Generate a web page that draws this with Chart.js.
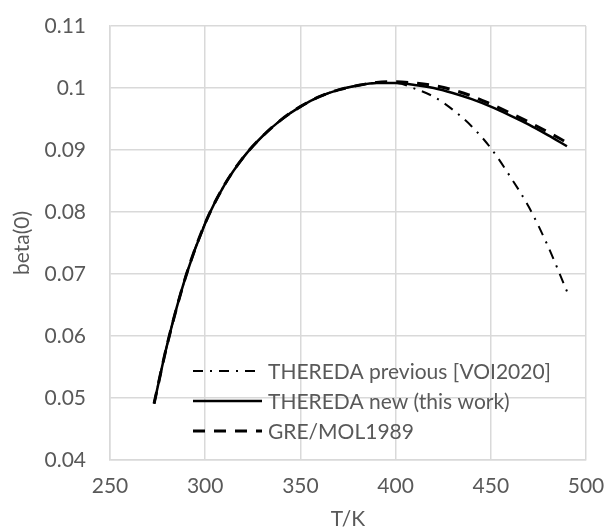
<!DOCTYPE html>
<html>
<head>
<meta charset="utf-8">
<script src="https://cdn.jsdelivr.net/npm/chart.js@4/dist/chart.umd.min.js"></script>
<style>
  html, body { margin: 0; padding: 0; background: #fff; }
  #wrap { width: 608px; height: 530px; }
</style>
</head>
<body>
<div id="wrap"><canvas id="chart"></canvas></div>
<script>
var temps = [273.15, 280, 290, 300, 310, 320, 330, 340, 350, 360, 370, 380,
             390, 400, 410, 420, 430, 440, 450, 460, 470, 480, 490];

var betaPrevious = [0.0491, 0.0586, 0.0698, 0.0782, 0.0843, 0.0888, 0.0922, 0.0949, 0.0970, 0.0986, 0.0997, 0.1004,
                    0.1008, 0.1008, 0.0999, 0.0986, 0.0965, 0.0938, 0.0903, 0.0858, 0.0808, 0.0745, 0.0672];

var betaNew = [0.0491, 0.0586, 0.0698, 0.0782, 0.0843, 0.0888, 0.0922, 0.0949, 0.0970, 0.0986, 0.0997, 0.1004,
               0.1008, 0.1008, 0.1005, 0.1000, 0.0992, 0.0982, 0.0970, 0.0956, 0.0941, 0.0924, 0.0906];

var betaGre = [0.0491, 0.0586, 0.0698, 0.0782, 0.0843, 0.0888, 0.0922, 0.0949, 0.0970, 0.0986, 0.0997, 0.1004,
               0.1009, 0.1010, 0.1008, 0.1004, 0.0997, 0.0987, 0.0974, 0.0960, 0.0945, 0.0929, 0.0912];

var seriesLabels = ['THEREDA previous [VOI2020]', 'THEREDA new (this work)', 'GRE/MOL1989'];

var xTicks = [250, 300, 350, 400, 450, 500];
var yTicks = [0.04, 0.05, 0.06, 0.07, 0.08, 0.09, 0.1, 0.11];

function points(ys) {
	return temps.map(function(t, i){ return {x: t, y: ys[i]}; });
}

var textColor = '#595959';
var fontFamily = 'Lato, "Open Sans", sans-serif';

// legend sits inside the plot, bottom left, drawn by hand
var innerLegend = {
	id: 'innerLegend',
	afterDatasetsDraw: function(chart){
		var ctx = chart.ctx;
		var rows = [371, 401, 431];
		chart.data.datasets.forEach(function(ds, i){
			var y = rows[i];
			ctx.save();
			ctx.strokeStyle = ds.borderColor;
			ctx.lineWidth = ds.borderWidth;
			ctx.setLineDash(ds.borderDash || []);
			ctx.beginPath();
			ctx.moveTo(193, y);
			ctx.lineTo(262, y);
			ctx.stroke();
			ctx.setLineDash([]);
			ctx.fillStyle = textColor;
			ctx.font = '21px ' + fontFamily;
			ctx.textBaseline = 'middle';
			ctx.fillText(ds.label, 268, y + 1);
			ctx.restore();
		});
	}
};

var ctx = document.getElementById('chart').getContext('2d');
var chart = new Chart(ctx, {
	type: 'scatter',
	data: {
		datasets: [{
			label: seriesLabels[0],
			data: points(betaPrevious),
			borderColor: '#000',
			borderWidth: 2,
			borderDash: [10, 7, 2, 7]
		}, {
			label: seriesLabels[1],
			data: points(betaNew),
			borderColor: '#000',
			borderWidth: 2.5
		}, {
			label: seriesLabels[2],
			data: points(betaGre),
			borderColor: '#000',
			borderWidth: 3,
			borderDash: [12, 9]
		}]
	},
	options: {
		responsive: true,
		maintainAspectRatio: false,
		animation: false,
		showLine: true,
		elements: {
			point: { radius: 0, hoverRadius: 0 },
			line: { cubicInterpolationMode: 'monotone', fill: false }
		},
		layout: { padding: { top: 26, right: 22, left: 0, bottom: 0 } },
		plugins: {
			legend: { display: false },
			tooltip: { enabled: false }
		},
		scales: {
			x: {
				type: 'linear',
				min: 250,
				max: 500,
				afterBuildTicks: function(scale){
					scale.ticks = xTicks.map(function(v){ return {value: v}; });
				},
				afterFit: function(scale){
					scale.height = 70;
					scale.paddingLeft = 0;
					scale.paddingRight = 0;
				},
				grid: { color: '#d9d9d9', lineWidth: 1.5, drawTicks: false },
				border: { color: '#d9d9d9', width: 1.5 },
				ticks: { color: textColor, padding: 14, font: { family: fontFamily, size: 21 } },
				title: {
					display: true,
					text: 'T/K',
					color: textColor,
					padding: 0,
					font: { family: fontFamily, size: 21, lineHeight: 1.05 }
				}
			},
			y: {
				min: 0.04,
				max: 0.11,
				afterBuildTicks: function(scale){
					scale.ticks = yTicks.map(function(v){ return {value: v}; });
				},
				afterFit: function(scale){
					scale.width = 110;
					scale.paddingTop = 0;
					scale.paddingBottom = 0;
				},
				grid: { color: '#d9d9d9', lineWidth: 1.5, drawTicks: false },
				border: { color: '#d9d9d9', width: 1.5 },
				ticks: {
					color: textColor,
					padding: 24,
					font: { family: fontFamily, size: 21 },
					callback: function(v){ return String(Math.round(v * 100) / 100); }
				},
				title: {
					display: true,
					text: 'beta(0)',
					color: textColor,
					padding: { top: 10, bottom: 0 },
					font: { family: fontFamily, size: 21 }
				}
			}
		}
	},
	plugins: [innerLegend]
});
</script>
</body>
</html>
